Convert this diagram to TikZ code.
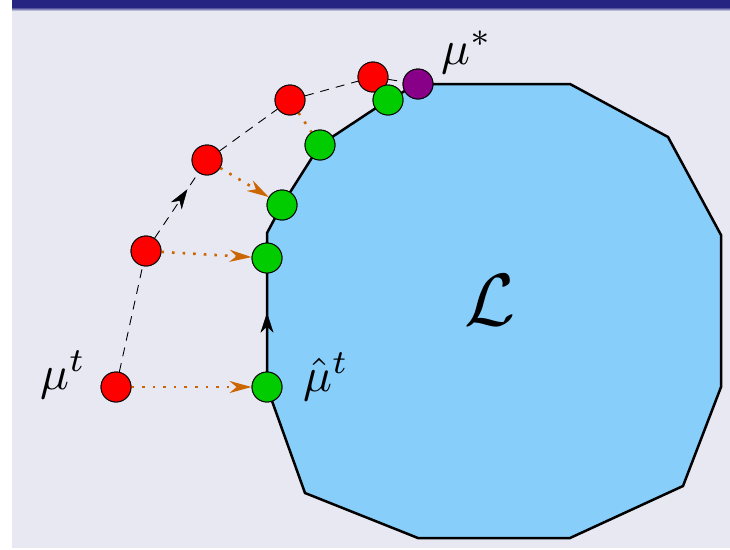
\documentclass[tikz,border=0pt]{standalone}
\usepackage{graphicx}
\usetikzlibrary{arrows.meta,decorations.markings}
\definecolor{bgl}{RGB}{232,232,243}
\definecolor{barblue}{RGB}{38,38,130}
\definecolor{polyblue}{RGB}{135,206,250}
\definecolor{ptred}{RGB}{255,0,0}
\definecolor{ptgreen}{RGB}{0,204,0}
\definecolor{ptpurple}{RGB}{136,0,136}
\definecolor{projorange}{RGB}{204,102,0}
\begin{document}
\begin{tikzpicture}[x=1pt,y=-1pt,
  dot/.style={circle,draw=black,line width=0.9pt,minimum size=30pt,inner sep=0pt},
  redpt/.style={dot,fill=ptred},
  greenpt/.style={dot,fill=ptgreen},
  purplept/.style={dot,fill=ptpurple},
  lbl/.style={inner sep=0pt},
  bigtip/.style={-{Stealth[length=22pt,width=12pt,inset=7pt]}},
  proj/.style={draw=projorange,line width=2.6pt,dash pattern=on 2.6pt off 8pt},
  projarrow/.style={proj,bigtip},
  dashline/.style={draw=black,line width=0.9pt,dash pattern=on 9pt off 7pt},
  markarrow/.style={decoration={markings,mark=at position #1 with {\arrow[black,line width=0.5pt]{Stealth[length=20pt,width=13pt,inset=6pt]}}},postaction={decorate}}
]
\useasboundingbox (0,0) rectangle (730,549);
% background
\fill[white] (0,0) rectangle (730,549);
\fill[bgl] (12,0) rectangle (730,548);
\fill[barblue] (12,0) rectangle (730,7);
\shade[top color=barblue,bottom color=bgl] (12,7) rectangle (730,11);

% polygon vertices
\coordinate (v1) at (418,84);
\coordinate (v2) at (570,84);
\coordinate (v3) at (668,137);
\coordinate (v4) at (721,235);
\coordinate (v5) at (721,387);
\coordinate (v6) at (683,486);
\coordinate (v7) at (570,538);
\coordinate (v8) at (418,538);
\coordinate (v9) at (305,493);
\coordinate (v10) at (267,387);
\coordinate (v11) at (267,233);
\coordinate (v12) at (282,205);
\coordinate (v13) at (320,145);
\coordinate (v14) at (388,100);
\filldraw[fill=polyblue,draw=black,line width=2.5pt]
  (v1) -- (v2) -- (v3) -- (v4) -- (v5) -- (v6) -- (v7) -- (v8) -- (v9)
  -- (v10) -- (v11) -- (v12) -- (v13) -- (v14) -- cycle;

% points
\node[redpt] (r1) at (116,387) {};
\node[redpt] (r2) at (146,251) {};
\node[redpt] (r3) at (207,160) {};
\node[redpt] (r4) at (290,100) {};
\node[redpt] (r5) at (373,77) {};
\node[purplept] (p) at (418,84) {};
\node[greenpt] (g1) at (267,387) {};
\node[greenpt] (g2) at (267,258) {};
\node[greenpt] (g3) at (282,205) {};
\node[greenpt] (g4) at (320,145) {};
\node[greenpt] (g5) at (388,100) {};

% connectors
\draw[dashline] (r1) -- (r2);
\draw[dashline,markarrow=0.75] (r2) -- (r3);
\draw[dashline] (r3) -- (r4);
\draw[dashline] (r4) -- (r5);
\draw[dashline] (r5) -- (p);
\draw[projarrow] (r1) -- (g1);
\draw[projarrow] (r2) -- (g2);
\draw[projarrow] (r3) -- (g3);
\draw[proj] (r4) -- (g4);
\path[markarrow=0.6] (g1) -- (g2);

% points on top
\node[redpt] at (r1) {};
\node[redpt] at (r2) {};
\node[redpt] at (r3) {};
\node[redpt] at (r4) {};
\node[redpt] at (r5) {};
\node[purplept] at (p) {};
\node[greenpt] at (g1) {};
\node[greenpt] at (g2) {};
\node[greenpt] at (g3) {};
\node[greenpt] at (g4) {};
\node[greenpt] at (g5) {};

% labels
\node[lbl,anchor=base west] (lmu) at (40,389) {\scalebox{4.8}{$\mu^t$}};
\node[lbl,anchor=base west] (lmuhat) at (303,391) {\scalebox{4.8}{$\hat\mu^t$}};
\node[lbl,anchor=base west] (lmustar) at (441,64) {\scalebox{4.8}{$\mu^*$}};
\node[lbl] (lL) at (490,300) {\scalebox{7.4}{$\mathcal{L}$}};
\end{tikzpicture}
\end{document}
